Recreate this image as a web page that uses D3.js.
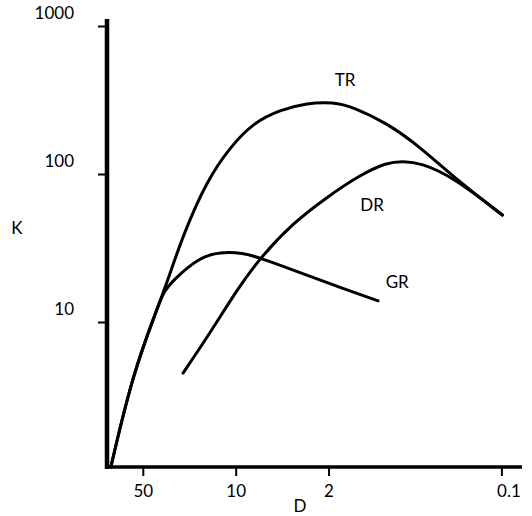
<!DOCTYPE html>
<html>
<head>
<meta charset="utf-8">
<script src="https://cdn.jsdelivr.net/npm/d3@7"></script>
<style>
  body { margin: 0; background: #fff; }
  text { font-family: Lato, "Open Sans", sans-serif; font-size: 17px; fill: #000; }
</style>
</head>
<body>
<div id="chart"></div>
<script>
// values: D (x, reversed log) and K (y, log)
const xTicks = [50, 10, 2, 0.1];
const yTicks = [10, 100, 1000];

const trD = [87, 59.3, 38.5, 35.3, 32.4, 24.9, 16.4, 11.0, 7.41, 4.64, 2.90, 1.85, 1.31, 0.726, 0.408, 0.230, 0.0984];
const trK = [1.05, 4.52, 12.6, 15.7, 19.2, 38.7, 91, 152, 221, 271, 302, 306, 284, 221, 152, 95.4, 52.8];

const drD = [24.9, 15.6, 9.77, 6.56, 3.70, 2.05, 1.16, 0.726, 0.548, 0.408, 0.230, 0.0984];
const drK = [4.52, 8.43, 16.5, 27.1, 46.7, 69.9, 98.5, 120, 122, 119, 95.4, 52.8];

const grD = [87, 59.3, 38.5, 35.3, 29.6, 18.6, 13.1, 8.81, 6.56, 3.70, 2.05, 0.847];
const grK = [1.05, 4.52, 12.6, 15.7, 19.2, 27.5, 29.7, 29.3, 27.1, 22.5, 18.4, 13.9];

const seriesNames = ['TR', 'DR', 'GR'];
const labelD = [1.50, 0.94, 0.609];
const labelK = [432, 61.8, 18.6];

const width = 532;
const height = 516;

const svg = d3.select('#chart')
    .append('svg')
    .attr('width', width)
    .attr('height', height);

const x = d3.scaleLog().domain([93, 0.07]).range([107, 522]);
const y = d3.scaleLog().domain([1, 1000]).range([470, 26]);

// axes
const xAxis = svg.append('g')
    .attr('transform', 'translate(0,467)')
    .call(d3.axisBottom(x)
        .tickValues(xTicks)
        .tickSize(9)
        .tickPadding(9)
        .tickFormat(d => String(d)));

xAxis.select('.domain').remove();
xAxis.selectAll('.tick line').attr('stroke', '#000').attr('stroke-width', 2);
xAxis.selectAll('.tick text')
    .style('font-size', '17px')
    .attr('dx', d => d === 0.1 ? 7 : 0);

const yAxis = svg.append('g')
    .attr('transform', 'translate(107,0)')
    .call(d3.axisLeft(y)
        .tickValues(yTicks)
        .tickSize(9)
        .tickPadding(24)
        .tickFormat(d => String(d)));

yAxis.select('.domain').remove();
yAxis.selectAll('.tick line').attr('stroke', '#000').attr('stroke-width', 2);
yAxis.selectAll('.tick text')
    .style('font-size', '17px')
    .attr('dy', '-0.42em');

// thick axis lines
svg.append('line')
    .attr('x1', 107).attr('x2', 107)
    .attr('y1', 19).attr('y2', 469)
    .attr('stroke', '#000')
    .attr('stroke-width', 4.5);

svg.append('line')
    .attr('x1', 105).attr('x2', 522)
    .attr('y1', 467).attr('y2', 467)
    .attr('stroke', '#000')
    .attr('stroke-width', 3.5);

// curves, smoothed like the hand drawing
const line = d3.line()
    .x(d => x(d[0]))
    .y(d => y(d[1]))
    .curve(d3.curveBasis);

const series = [
  d3.zip(trD, trK),
  d3.zip(drD, drK),
  d3.zip(grD, grK)
];

svg.append('g')
    .selectAll('path')
    .data(series)
    .join('path')
    .attr('d', line)
    .attr('fill', 'none')
    .attr('stroke', '#000')
    .attr('stroke-width', 3)
    .attr('stroke-linecap', 'round');

svg.append('g')
    .selectAll('text')
    .data(seriesNames)
    .join('text')
    .attr('x', (d, i) => x(labelD[i]))
    .attr('y', (d, i) => y(labelK[i]))
    .attr('dy', '0.35em')
    .attr('text-anchor', 'middle')
    .text(d => d);

// axis titles
svg.append('text')
    .attr('x', 17)
    .attr('y', 228)
    .attr('dy', '0.35em')
    .attr('text-anchor', 'middle')
    .text('K');

svg.append('text')
    .attr('x', 300)
    .attr('y', 500)
    .attr('dy', '0.71em')
    .attr('text-anchor', 'middle')
    .text('D');
</script>
</body>
</html>
